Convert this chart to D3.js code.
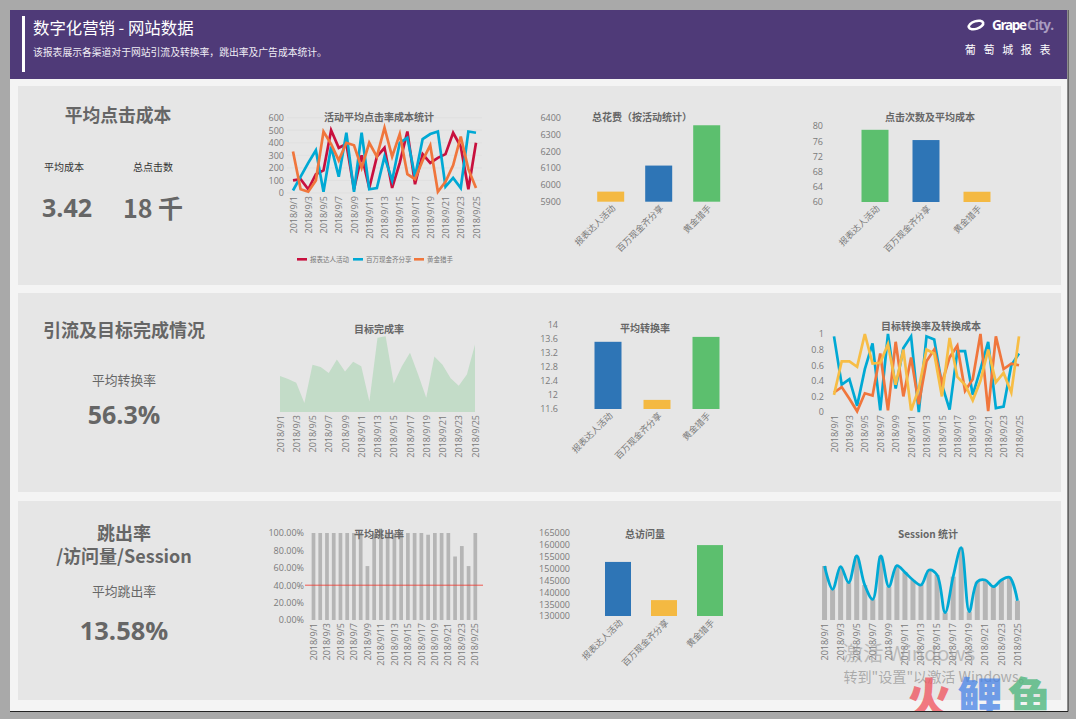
<!DOCTYPE html>
<html>
<head>
<meta charset="utf-8">
<script src="https://cdn.jsdelivr.net/npm/d3@7"></script>
<style>
  html, body { margin: 0; padding: 0; background: #a9a9a9; overflow: hidden; }
  svg { display: block; }
  text { font-family: "Noto Sans CJK SC", "Open Sans", sans-serif; }
  .tick text { fill: #7a7a7a; }
  .date text { font-family: "Open Sans", "Noto Sans CJK SC", sans-serif; }
  .num text { font-family: "Open Sans", sans-serif; }
</style>
</head>
<body>
<svg id="page" width="1076" height="719"></svg>
<script>
var days = d3.range(1, 26).map(function(d) { return '2018/9/' + d; });
var shownDays = days.filter(function(d, i) { return i % 2 === 0; });
var campaigns = ['报表达人活动', '百万现金齐分享', '黄金猎手'];

// top row
var cpcRed = [100,110,30,150,180,500,360,390,30,300,40,290,360,40,240,490,70,310,240,280,310,480,370,30,400];
var cpcBlue = [20,130,240,340,10,370,130,480,10,480,30,40,290,100,400,440,130,430,470,490,50,120,40,490,480];
var cpcOrange = [330,30,10,100,490,390,260,400,380,200,400,290,520,290,470,150,110,260,380,10,90,220,450,190,40];
var cpcTicks = [0,100,200,300,400,500,600];
var spendValues = [5960, 6115, 6355];
var spendTicks = [5900,6000,6100,6200,6300,6400];
var clickValues = [79, 76.3, 62.7];
var clickTicks = [60,64,68,72,76,80];

// middle row
var goalRate = [48,44,39,12,63,60,52,70,54,67,61,14,99,101,38,61,79,50,19,74,63,45,35,50,90];
var convValues = [13.52, 11.86, 13.66];
var convTicks = [11.6,12,12.4,12.8,13.2,13.6,14];
var convBlue = [.97,.35,.42,.08,.55,.88,.02,1,.3,.82,.97,0,.97,.93,.35,.03,.78,.78,.22,.55,.9,.05,.07,.6,.75];
var convOrange = [.25,.32,.17,.01,.24,.21,.75,.02,.9,.2,.7,.1,.65,.8,.37,.7,.85,.27,.42,1,.01,.97,.55,.62,.6];
var convYellow = [.22,.65,.65,.58,1,.62,.63,.87,.35,.8,.02,.3,.8,.75,.2,.95,.45,.35,.15,.4,.8,.38,.5,.25,.97];
var convRateTicks = [0,.2,.4,.6,.8,1];

// bottom row
var bounce = [100,100,100,100,100,100,100,100,62,100,100,100,100,100,100,100,100,98,100,100,100,73,85,62,100];
var bounceTicks = [0,20,40,60,80,100];
var bounceTarget = 40;
var visitValues = [152800, 136700, 159900];
var visitTicks = [130000,135000,140000,145000,150000,155000,160000,165000];
var sessions = [162,92,160,112,192,105,62,192,100,163,143,120,105,150,135,22,130,217,25,115,120,100,120,128,58];

var RED = '#c8103e', BLUE = '#00a9d4', ORANGE = '#f0763c', YELLOW = '#f7bd45';
var BAR_BLUE = '#2e75b6', BAR_YELLOW = '#f4b942', BAR_GREEN = '#5cbf6e';

var svg = d3.select('#page');

// page frame
svg.append('rect').attr('x', 10).attr('y', 10).attr('width', 1058).attr('height', 701).attr('fill', '#f4f4f4');
svg.append('path').attr('d', 'M1068 10V711.5H10').attr('fill', 'none').attr('stroke', '#222').attr('stroke-width', 1);
svg.append('rect').attr('x', 10).attr('y', 10).attr('width', 1057).attr('height', 69).attr('fill', '#4f3a78');
svg.append('rect').attr('x', 22).attr('y', 16).attr('width', 3).attr('height', 56).attr('fill', '#fff');
[[86, 199], [293, 199], [501, 199]].forEach(function(p) {
  svg.append('rect').attr('x', 18).attr('y', p[0]).attr('width', 1043).attr('height', p[1]).attr('fill', '#e6e6e6');
});

function label(x, y, txt, size, color, weight, anchor) {
  return svg.append('text').attr('x', x).attr('y', y).text(txt)
    .attr('font-size', size).attr('fill', color).attr('font-weight', weight || 400)
    .attr('text-anchor', anchor || 'middle').attr('dominant-baseline', 'central');
}

label(33, 26.5, '数字化营销 - 网站数据', 16.4, '#fff', 400, 'start');
label(33, 51.5, '该报表展示各渠道对于网站引流及转换率，跳出率及广告成本统计。', 9.8, '#f0edf5', 400, 'start');
label(1009, 48.5, '葡 萄 城 报 表', 11, '#fff').style('letter-spacing', '2.6px');

// logo
svg.append('ellipse').attr('cx', 976).attr('cy', 25).attr('rx', 7.5).attr('ry', 3.8)
  .attr('fill', 'none').attr('stroke', '#fff').attr('stroke-width', 2.6).attr('transform', 'rotate(-18 976 25)');
label(992, 25, 'Grape', 13.5, '#fff', 700, 'start').style('font-family', '"Open Sans"').attr('textLength', 35);
label(1027, 25, 'City.', 13.5, '#a99cc0', 700, 'start').style('font-family', '"Open Sans"').attr('textLength', 27);

// left side numbers
var DARK = '#666';
label(118, 114, '平均点击成本', 17.8, DARK, 700);
label(64, 166.5, '平均成本', 10, '#333');
label(153, 166.5, '总点击数', 10, '#333');
label(67, 207, '3.42', 25, DARK, 700).style('font-family', '"Open Sans"');
label(153, 207, '18 千', 25, DARK, 700);
label(124, 329, '引流及目标完成情况', 18, DARK, 700);
label(124, 379, '平均转换率', 12.8, DARK, 400);
label(124, 414, '56.3%', 25, DARK, 700).style('font-family', '"Open Sans"');
label(124, 532, '跳出率', 18, DARK, 700);
label(124, 555, '/访问量/Session', 18, DARK, 700);
label(124, 590, '平均跳出率', 12.8, DARK, 400);
label(124, 630, '13.58%', 25.5, DARK, 700).style('font-family', '"Open Sans"');

function chartTitle(x, y, txt) {
  label(x, y, txt, 10, '#666', 700);
}

function yAxis(y, x, ticks, fmt, size) {
  var g = svg.append('g').attr('class', 'num').attr('transform', 'translate(' + x + ',0)')
    .call(d3.axisLeft(y).tickValues(ticks).tickSize(0).tickPadding(0).tickFormat(fmt || d3.format('')));
  g.select('.domain').remove();
  g.selectAll('text').attr('font-size', size || 9);
  return g;
}

function dateAxis(x, yTop) {
  var g = svg.append('g').attr('class', 'date').attr('transform', 'translate(0,' + yTop + ')')
    .call(d3.axisBottom(x).tickValues(shownDays).tickSize(0));
  g.select('.domain').remove();
  g.selectAll('text').attr('font-size', 9).attr('text-anchor', 'end')
    .attr('transform', 'rotate(-90)').attr('x', 0).attr('y', 0).attr('dx', 0).attr('dy', '.35em');
  return g;
}

function drawLine(x, y, values, color, curve) {
  var line = d3.line().x(function(d, i) { return x(days[i]); }).y(function(d) { return y(d); });
  if (curve) line.curve(curve);
  svg.append('path').datum(values).attr('d', line).attr('fill', 'none')
    .attr('stroke', color).attr('stroke-width', 2.7).attr('stroke-linejoin', 'miter');
}

// 3 bar charts share this one
function barChart(opts) {
  var x = d3.scaleBand().domain(opts.names).range([opts.left, opts.left + opts.step * 3])
    .paddingInner(1 - opts.barW / opts.step).paddingOuter((1 - opts.barW / opts.step) / 2);
  var y = d3.scaleLinear().domain(opts.domain).range(opts.range);
  yAxis(y, opts.axisX, opts.ticks);
  svg.append('g').selectAll('rect').data(opts.values).join('rect')
    .attr('x', function(d, i) { return x(opts.names[i]); })
    .attr('width', x.bandwidth())
    .attr('y', function(d) { return y(d); })
    .attr('height', function(d) { return y(opts.domain[0]) - y(d); })
    .attr('fill', function(d, i) { return opts.colors[i]; });
  opts.names.forEach(function(n, i) {
    var cx = x(n) + x.bandwidth() / 2 + 3, ty = opts.range[0] + 5;
    svg.append('text').text(n).attr('font-size', 8.8).attr('fill', '#7a7a7a').attr('text-anchor', 'end')
      .attr('transform', 'translate(' + cx + ',' + ty + ') rotate(-45)').attr('dy', '.35em');
  });
}

// 活动平均点击率成本统计
var x1 = d3.scalePoint().domain(days).range([293, 476]);
var y1 = d3.scaleLinear().domain([0, 600]).range([193, 117.7]);
svg.append('g').selectAll('line').data(cpcTicks).join('line')
  .attr('x1', 287).attr('x2', 482).attr('y1', function(d) { return y1(d); }).attr('y2', function(d) { return y1(d); })
  .attr('stroke', '#dcdcdc').attr('stroke-width', .6);
yAxis(y1, 284, cpcTicks);
dateAxis(x1, 196);
drawLine(x1, y1, cpcRed, RED);
drawLine(x1, y1, cpcBlue, BLUE);
drawLine(x1, y1, cpcOrange, ORANGE);
chartTitle(379, 116, '活动平均点击率成本统计');
// legend
var legendX = d3.scaleOrdinal().domain(campaigns).range([297, 353, 414]);
var legendColor = d3.scaleOrdinal().domain(campaigns).range([RED, BLUE, ORANGE]);
campaigns.forEach(function(c) {
  svg.append('rect').attr('x', legendX(c)).attr('y', 258).attr('width', 10).attr('height', 2.6).attr('fill', legendColor(c));
  label(legendX(c) + 13, 259, c, 6.5, '#777', 400, 'start');
});

// 总花费
barChart({ names: campaigns, values: spendValues, colors: [BAR_YELLOW, BAR_BLUE, BAR_GREEN],
  left: 586.7, step: 48, barW: 27, domain: [5900, 6400], range: [201.7, 117.7], ticks: spendTicks, axisX: 561 });
chartTitle(642, 116, '总花费（按活动统计）');

// 点击次数及平均成本
barChart({ names: campaigns, values: clickValues, colors: [BAR_GREEN, BAR_BLUE, BAR_YELLOW],
  left: 849.5, step: 51, barW: 27, domain: [60, 80], range: [202, 126], ticks: clickTicks, axisX: 823 });
chartTitle(930, 116, '点击次数及平均成本');

// 目标完成率
var x4 = d3.scalePoint().domain(days).range([280, 475]);
var y4 = d3.scaleLinear().domain([0, 100]).range([412, 337]);
svg.append('path').datum(goalRate).attr('fill', '#c3dcc8')
  .attr('d', d3.area().x(function(d, i) { return x4(days[i]); }).y0(y4(0)).y1(function(d) { return y4(d); }));
dateAxis(x4, 415);
chartTitle(379, 328, '目标完成率');

// 平均转换率
barChart({ names: campaigns, values: convValues, colors: [BAR_BLUE, BAR_YELLOW, BAR_GREEN],
  left: 583.5, step: 49, barW: 27, domain: [11.6, 14], range: [409, 325], ticks: convTicks, axisX: 558 });
chartTitle(645, 327, '平均转换率');

// 目标转换率及转换成本
var x6 = d3.scalePoint().domain(days).range([834, 1019]);
var y6 = d3.scaleLinear().domain([0, 1]).range([412, 334]);
yAxis(y6, 824, convRateTicks);
dateAxis(x6, 415);
drawLine(x6, y6, convBlue, BLUE);
drawLine(x6, y6, convOrange, ORANGE);
drawLine(x6, y6, convYellow, YELLOW);
chartTitle(931, 325, '目标转换率及转换成本');

// 平均跳出率
var x7 = d3.scaleBand().domain(days).range([308.6, 480.2]).padding(.45);
var y7 = d3.scaleLinear().domain([0, 100]).range([620, 533]);
yAxis(y7, 304, bounceTicks, function(d) { return d.toFixed(2) + '%'; });
svg.append('g').selectAll('rect').data(bounce).join('rect')
  .attr('x', function(d, i) { return x7(days[i]); }).attr('width', x7.bandwidth())
  .attr('y', function(d) { return y7(d); }).attr('height', function(d) { return y7(0) - y7(d); })
  .attr('fill', '#b5b5b5');
dateAxis(x7, 623);
svg.append('line').attr('x1', 305).attr('x2', 483).attr('y1', y7(bounceTarget)).attr('y2', y7(bounceTarget))
  .attr('stroke', '#f0342a').attr('stroke-width', .8);
chartTitle(379, 533, '平均跳出率');

// 总访问量
barChart({ names: campaigns, values: visitValues, colors: [BAR_BLUE, BAR_YELLOW, BAR_GREEN],
  left: 595, step: 46, barW: 26, domain: [130000, 165000], range: [616, 533], ticks: visitTicks, axisX: 570 });
chartTitle(645, 533, '总访问量');

// Session 统计
var x9 = d3.scaleBand().domain(days).range([819, 1023]).padding(.38);
var y9 = d3.scaleLinear().domain([0, 240]).range([620, 540]);
svg.append('g').selectAll('rect').data(sessions).join('rect')
  .attr('x', function(d, i) { return x9(days[i]); }).attr('width', x9.bandwidth())
  .attr('y', function(d) { return y9(d); }).attr('height', function(d) { return y9(0) - y9(d); })
  .attr('fill', '#b5b5b5');
dateAxis(x9, 623);
var sessionLine = d3.line().curve(d3.curveCatmullRom.alpha(.5))
  .x(function(d, i) { return x9(days[i]) + x9.bandwidth() / 2; }).y(function(d) { return y9(d); });
svg.append('path').datum(sessions).attr('d', sessionLine).attr('fill', 'none').attr('stroke', BLUE).attr('stroke-width', 2.8);
chartTitle(928, 533, 'Session 统计');

// screenshot overlays
label(909, 652, '激活 Windows', 20.5, 'rgba(150,150,150,.55)');
label(938, 676, '转到"设置"以激活 Windows。', 14.1, 'rgba(150,150,150,.75)');
// the stamp stops at the frame line in the reference
svg.append('clipPath').attr('id', 'frameClip').append('rect').attr('x', 890).attr('y', 660).attr('width', 186).attr('height', 51);
var stamp = [['火', 929, 'rgba(240,80,90,.75)'], ['鲤', 980, 'rgba(70,130,230,.75)'], ['鱼', 1030, 'rgba(70,180,120,.75)']];
stamp.forEach(function(s) {
  label(s[1], 696.5, s[0], 45, s[2], 900).attr('clip-path', 'url(#frameClip)');
});
</script>
</body>
</html>
